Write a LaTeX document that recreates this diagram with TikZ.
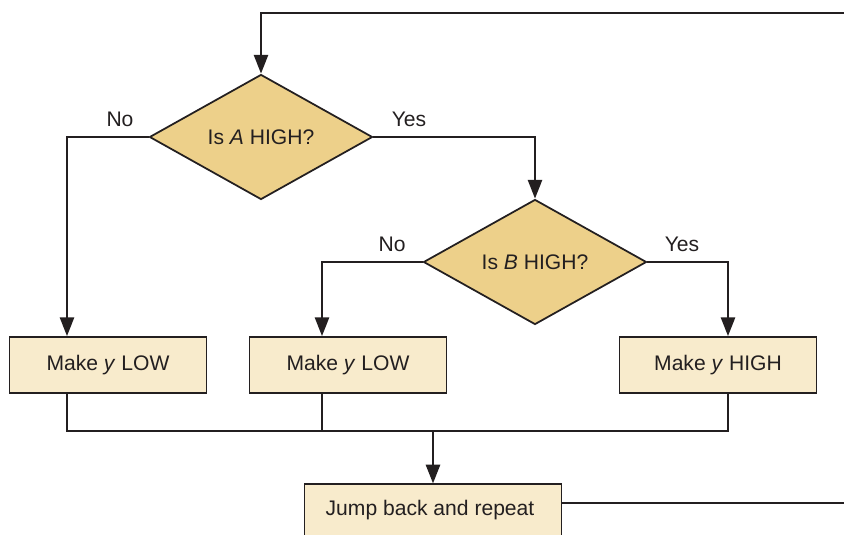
\documentclass[tikz,border=0pt]{standalone}
\usepackage{fontspec}
\setmainfont{Liberation Sans}
\usetikzlibrary{positioning, arrows.meta, shapes.geometric}
\definecolor{flowink}{HTML}{231F20}
\definecolor{askgold}{HTML}{EDD08A}
\definecolor{stepcream}{HTML}{F8EBCC}

\begin{document}
\begin{tikzpicture}[
      x=0.03cm, y=-0.03cm,
      every node/.style={font=\fontsize{18}{21}\selectfont, text=flowink},
      decision/.style={diamond, draw=flowink, line width=1.5pt, fill=askgold,
                       minimum width=6.69cm, minimum height=3.75cm, inner sep=0pt},
      action/.style={draw=flowink, line width=1.5pt, fill=stepcream,
                     minimum width=5.91cm, minimum height=1.68cm},
      link/.style={draw=flowink, line width=2.1pt},
      >={Triangle[length=16pt, width=12pt]},
    ]
    \useasboundingbox (0,0) rectangle (844,534);
    \clip (0,0) rectangle (844,534);

    \node[decision]                        (isA)   at (261, 137) {Is \textit{A} HIGH?};
    \node[decision]                        (isB)   at (535, 262) {Is \textit{B} HIGH?};
    \node[action]                          (lowA)  at (108, 365) {Make \textit{y} LOW};
    \node[action]                          (lowB)  at (348, 365) {Make \textit{y} LOW};
    \node[action]                          (highB) at (718, 365) {Make \textit{y} HIGH};
    \node[action, minimum width=7.71cm,
          minimum height=1.9cm]            (jump)  at (433, 516) {};
    \node                                  (jumptxt) at (430, 510) {Jump back and repeat};

    \coordinate (colA)  at (67, 0);
    \coordinate (colB)  at (322, 0);
    \coordinate (colC)  at (728, 0);
    \coordinate (join)  at (433, 431);
    \coordinate (loopR) at (860, 503);
    \coordinate (loopT) at (860, 13);

    \node (noA)  at (120, 119) {No};
    \node (yesA) at (409, 119) {Yes};
    \node (noB)  at (392, 244) {No};
    \node (yesB) at (682, 244) {Yes};

    \draw[link, ->] (isA.west) -| (colA |- lowA.north);
    \draw[link, ->] (isA.east) -| (isB.north);
    \draw[link, ->] (isB.west) -| (colB |- lowB.north);
    \draw[link, ->] (isB.east) -| (colC |- highB.north);

    \draw[link] (colA |- lowA.south) |- (colC |- join) -- (colC |- highB.south);
    \draw[link] (colB |- lowB.south) -- (colB |- join);
    \draw[link, ->] (join) -- (jump.north);

    \draw[link] (jump.east |- loopR) -- (loopR);
    \draw[link, ->] (loopT) -| (isA.north);
  \end{tikzpicture}
\end{document}
